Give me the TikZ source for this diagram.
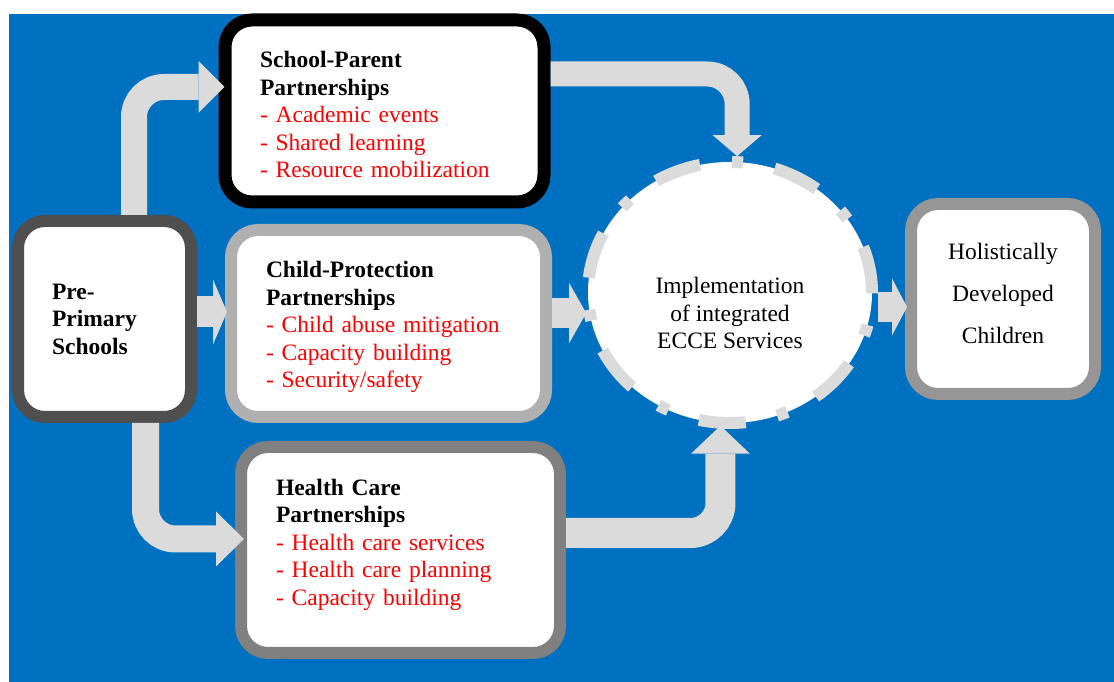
\documentclass[tikz,border=0pt]{standalone}
\usepackage{fontspec}
\setmainfont{Liberation Serif}
\usepackage{tikz}
\usetikzlibrary{
  % ellipse shape for the hub
  shapes.geometric,%
  % Triangle tips with fixed size
  arrows.meta,%
  positioning
}
\definecolor{bgblue}{HTML}{0070C0}
\definecolor{arrowgrey}{HTML}{DBDBDB}
\definecolor{itemred}{HTML}{FF0000}
\tikzset{box/.style={rectangle, rounded corners=27pt, fill=white, line width=12pt,
    inner xsep=34pt, inner ysep=0pt, align=left, font=\fontsize{23.5}{27.5}\selectfont}}
\tikzset{bigarrow/.style n args={3}{draw=arrowgrey, line width=#1,
    -{Triangle[length=#2, width=#3, line width=0pt]}}}

\begin{document}
\begin{tikzpicture}[x=1pt, y=1pt]
  \useasboundingbox (0,0) rectangle (1114,682);
  \fill[bgblue] (9,0) rectangle (1114,668); %
  % partner boxes
  \node[box, draw=black!69, minimum width=173pt, minimum height=196pt, text width=105pt] (pre) at (104.5,363)
    {\textbf{Pre-}\\\textbf{Primary}\\\textbf{Schools}};
  \node[box, draw=black, line width=13pt, minimum width=319pt, minimum height=182pt, text width=249pt,
    text height=24pt, text depth=110pt] (sp) at (384.5,571)
    {\textbf{School-Parent}\\\textbf{Partnerships}\\\color{itemred}- Academic events\\- Shared learning\\- Resource mobilization};
  \node[box, draw=black!31, minimum width=315pt, minimum height=187pt, text width=245pt,
    text height=24pt, text depth=115pt] (cp) at (388.5,358.5)
    {\textbf{Child-Protection}\\\textbf{Partnerships}\\\color{itemred}- Child abuse mitigation\\- Capacity building\\- Security/safety};
  \node[box, draw=black!50, minimum width=319pt, minimum height=206pt, text width=249pt,
    text height=16pt, text depth=125pt] (hc) at (400.5,132)
    {\textbf{Health Care}\\\textbf{Partnerships}\\\color{itemred}- Health care services\\- Health care planning\\- Capacity building};
  \node[box, draw=black!41, minimum width=184pt, minimum height=190pt, inner xsep=0pt, text width=184pt,
    align=center, text height=16pt, text depth=94pt, font=\fontsize{23.5}{42}\selectfont] (hol) at (1003,383)
    {Holistically\\Developed\\Children};
  % services hub, dash-dot rim
  \node[ellipse, fill=white, draw=arrowgrey, line width=12pt, minimum width=284pt, minimum height=261pt, inner sep=0pt,
    dash pattern=on 47pt off 32.15pt on 11pt off 32.15pt, dash phase=122.65pt,
    font=\fontsize{23.5}{27.5}\selectfont] (ecce) at (730,389.5)
    {\raisebox{-23.5pt}[\height][\depth]{\begin{tabular}{@{}c@{}}Implementation\\of integrated\\ECCE Services\end{tabular}}};
  % block arrows
  \draw[bigarrow={26pt}{26pt}{52pt}, rounded corners=30pt, shorten >=-6pt] ([xshift=29.5pt]pre.north) |- ([yshift=24pt]sp.west); %
  \draw[bigarrow={31pt}{14pt}{65pt}, shorten >=-2pt] ([yshift=11.5pt]cp.west -| pre.east) -- ([yshift=11.5pt]cp.west); %
  \draw[bigarrow={27pt}{28pt}{55pt}, rounded corners=30pt, shorten >=-9pt] ([xshift=41pt]pre.south) |- ([yshift=11pt]hc.west); %
  \draw[bigarrow={25pt}{21pt}{49pt}, rounded corners=30pt] ([yshift=37pt]sp.east) -| (ecce.87.5); %
  \draw[bigarrow={30pt}{17pt}{60pt}, shorten >=-2.5pt] (cp.east |- ecce.188.5) -- (ecce.188.5); %
  \draw[bigarrow={30pt}{28pt}{59pt}, rounded corners=30pt, shorten >=-3pt] ([yshift=17pt]hc.east) -| (ecce.266.5); %
  \draw[bigarrow={30pt}{15pt}{57pt}, shorten >=-2pt] ([yshift=-8pt]hol.west -| ecce.east) -- ([yshift=-8pt]hol.west); %
\end{tikzpicture}
\end{document}
